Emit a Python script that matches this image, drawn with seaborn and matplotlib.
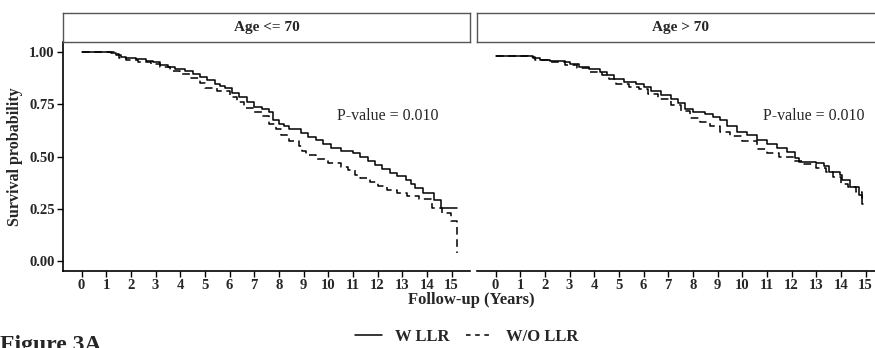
import pandas as pd
import numpy as np
import matplotlib
matplotlib.use('Agg')
import matplotlib.pyplot as plt
from matplotlib.lines import Line2D
import seaborn as sns

sns.set_theme(style='white')
plt.rcParams['font.family'] = ['Liberation Serif', 'DejaVu Serif']

# Kaplan-Meier curves (time in years, survival probability)
young_w_time = [0, 1.2, 1.4, 1.6, 1.8, 2.2, 2.6, 2.9, 3.2, 3.5, 3.8, 4.2, 4.5, 4.8, 5.1,
                5.4, 5.6, 5.8, 6.1, 6.4, 6.7, 7.0, 7.3, 7.6, 7.75, 8.0, 8.2, 8.4, 8.9,
                9.2, 9.5, 9.8, 10.1, 10.5, 11.0, 11.3, 11.6, 11.9, 12.2, 12.5, 12.8,
                13.15, 13.35, 13.5, 13.85, 14.3, 14.58, 15.24]
young_w_surv = [1.0, 0.995, 0.988, 0.98, 0.972, 0.966, 0.96, 0.952, 0.94, 0.928, 0.918,
                0.91, 0.898, 0.884, 0.866, 0.85, 0.84, 0.83, 0.805, 0.785, 0.76, 0.738,
                0.728, 0.715, 0.675, 0.655, 0.645, 0.632, 0.611, 0.595, 0.579, 0.56,
                0.539, 0.525, 0.515, 0.499, 0.478, 0.459, 0.44, 0.42, 0.405, 0.388,
                0.37, 0.35, 0.325, 0.292, 0.253, 0.253]

young_wo_time = [0, 1.3, 1.5, 1.8, 2.3, 2.8, 3.2, 3.6, 4.0, 4.4, 4.8, 5.0, 5.5, 6.0, 6.3,
                 6.6, 7.0, 7.3, 7.6, 7.9, 8.1, 8.4, 8.8, 8.95, 9.1, 9.5, 10.0, 10.5, 10.8,
                 11.1, 11.3, 11.7, 12.0, 12.4, 12.8, 13.2, 13.7, 14.2, 14.63, 14.97,
                 15.24]
young_wo_surv = [1.0, 0.99, 0.975, 0.962, 0.955, 0.945, 0.93, 0.912, 0.895, 0.878, 0.855,
                 0.83, 0.815, 0.785, 0.76, 0.735, 0.712, 0.695, 0.655, 0.63, 0.605, 0.575,
                 0.55, 0.527, 0.505, 0.49, 0.47, 0.45, 0.435, 0.41, 0.395, 0.378, 0.36,
                 0.34, 0.325, 0.31, 0.297, 0.253, 0.228, 0.188, 0.035]

old_w_time = [0, 1.2, 1.5, 1.8, 2.2, 2.8, 3.0, 3.4, 3.8, 4.25, 4.5, 4.8, 5.2, 5.7, 6.0,
              6.3, 6.7, 7.1, 7.4, 7.7, 8.0, 8.5, 8.8, 9.1, 9.4, 9.8, 10.2, 10.6, 11.0,
              11.4, 11.8, 12.15, 12.3, 13.0, 13.3, 13.5, 13.98, 14.04, 14.38, 14.72,
              14.85, 14.88]
old_w_surv = [0.985, 0.983, 0.975, 0.965, 0.96, 0.955, 0.945, 0.93, 0.918, 0.906, 0.89,
              0.87, 0.858, 0.85, 0.835, 0.815, 0.795, 0.778, 0.755, 0.73, 0.715, 0.705,
              0.692, 0.675, 0.645, 0.62, 0.605, 0.58, 0.56, 0.54, 0.523, 0.491, 0.475,
              0.47, 0.455, 0.427, 0.411, 0.388, 0.355, 0.316, 0.273, 0.273]

old_wo_time = [0, 1.3, 1.6, 2.2, 2.8, 3.3, 3.8, 4.3, 4.6, 4.9, 5.4, 5.8, 6.2, 6.6, 7.1,
               7.5, 7.9, 8.3, 8.7, 9.1, 9.5, 10.0, 10.6, 11.0, 11.5, 12.1, 12.5, 13.0,
               13.4, 13.7, 14.0, 14.3, 14.6, 14.85, 14.9]
old_wo_surv = [0.985, 0.978, 0.962, 0.955, 0.94, 0.925, 0.905, 0.89, 0.87, 0.85, 0.835,
               0.825, 0.8, 0.775, 0.746, 0.72, 0.683, 0.665, 0.645, 0.619, 0.6, 0.575,
               0.535, 0.518, 0.5, 0.478, 0.462, 0.445, 0.425, 0.4, 0.37, 0.355, 0.33,
               0.3, 0.3]

groups = ['W LLR', 'W/O LLR']
panels = ['Age <= 70', 'Age > 70']
p_values = ['P-value = 0.010', 'P-value = 0.010']
x_ticks = list(range(0, 16))
y_ticks = [0.0, 0.25, 0.5, 0.75, 1.0]


def km_frame(t_w, s_w, t_wo, s_wo):
    a = pd.DataFrame({'time': t_w, 'surv': s_w, 'group': groups[0]})
    b = pd.DataFrame({'time': t_wo, 'surv': s_wo, 'group': groups[1]})
    return pd.concat([a, b], ignore_index=True)


data = [km_frame(young_w_time, young_w_surv, young_wo_time, young_wo_surv),
        km_frame(old_w_time, old_w_surv, old_wo_time, old_wo_surv)]

W, H = 875, 348
fig = plt.figure(figsize=(W / 100, H / 100), dpi=100)
lefts = [63, 477]
bold = dict(fontweight='bold')

for i, (df, left) in enumerate(zip(data, lefts)):
    ax = fig.add_axes([left / W, 77 / H, 407 / W, 229 / H])
    sns.lineplot(data=df, x='time', y='surv', style='group',
                 dashes={groups[0]: '', groups[1]: (5, 3)},
                 color='black', linewidth=1.1, drawstyle='steps-post',
                 estimator=None, sort=False, legend=False, ax=ax)
    ax.set_xlim(-0.75, 15.75)
    ax.set_ylim(-0.05, 1.05)
    ax.set_xticks(x_ticks)
    ax.set_xticklabels([str(t) for t in x_ticks], fontsize=10.5, **bold)
    ax.set_xlabel('')
    ax.set_ylabel('')
    for s in ['top', 'right']:
        ax.spines[s].set_visible(False)
    ax.spines['bottom'].set_color('black')
    ax.spines['bottom'].set_linewidth(1.2)
    if i == 0:
        ax.set_yticks(y_ticks)
        ax.set_yticklabels(['%.2f' % v for v in y_ticks], fontsize=10.5, **bold)
        ax.spines['left'].set_color('black')
        ax.spines['left'].set_linewidth(1.2)
        ax.tick_params(axis='y', length=4, width=1, color='black', direction='out',
                       left=True, pad=2)
    else:
        ax.set_yticks([])
        ax.spines['left'].set_visible(False)
    ax.tick_params(axis='x', length=4, width=1, color='black', direction='out',
                   bottom=True, pad=2)
    ax.text([12.4, 12.9][i], 0.695, p_values[i], ha='center', va='center',
            fontsize=11.5)

    strip = fig.add_axes([left / W, 306 / H, 407 / W, 29 / H])
    strip.set_xticks([])
    strip.set_yticks([])
    for s in strip.spines.values():
        s.set_color('#555555')
        s.set_linewidth(1.0)
    strip.text(0.5, 0.5, panels[i], ha='center', va='center', fontsize=11,
               transform=strip.transAxes, **bold)

fig.text(15 / W, 1 - 157 / H, 'Survival probability', rotation=90, ha='center',
         va='center', fontsize=11.5, **bold)
fig.text(471 / W, 1 - 300 / H, 'Follow-up (Years)', ha='center', va='center',
         fontsize=12, **bold)

handles = [Line2D([], [], color='black', lw=1.1),
           Line2D([], [], color='black', lw=1.1, dashes=(3, 3))]
fig.legend(handles, groups, loc='center', bbox_to_anchor=(467 / W, 1 - 337 / H),
           ncol=2, frameon=False, prop={'weight': 'bold', 'size': 12},
           handlelength=1.6, columnspacing=1.0, handletextpad=0.8)

fig.text(0.0, -0.008, 'Figure 3A', ha='left', va='baseline', fontsize=17, **bold)

fig.savefig('out.png', dpi=100)
